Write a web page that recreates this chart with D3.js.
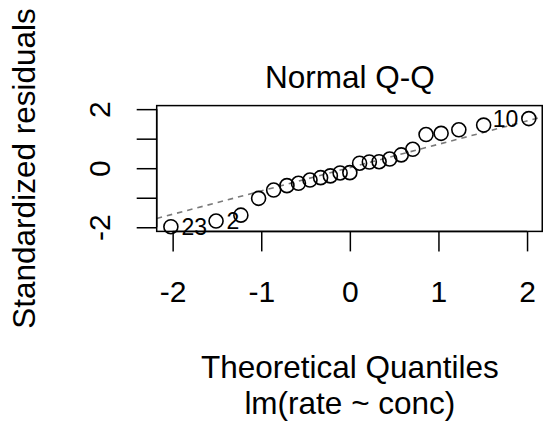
<!DOCTYPE html>
<html>
<head>
<meta charset="utf-8">
<script src="https://cdn.jsdelivr.net/npm/d3@7"></script>
<style>
html,body{margin:0;padding:0;background:#fff;}
svg{display:block;}
text{font-family:"Liberation Sans",Arial,sans-serif;fill:#000;}
</style>
</head>
<body>
<script>
// Theoretical quantiles (x) and standardized residuals (y), sorted
const theoretical = [-2.02,-1.51,-1.23,-1.03,-0.86,-0.71,-0.58,-0.45,-0.33,-0.22,-0.11,0.00,
                     0.11,0.22,0.33,0.45,0.58,0.71,0.86,1.03,1.23,1.51,2.02];
const residuals   = [-1.98,-1.79,-1.59,-1.02,-0.74,-0.59,-0.51,-0.40,-0.32,-0.26,-0.16,-0.15,
                     0.17,0.21,0.22,0.31,0.45,0.64,1.14,1.18,1.30,1.46,1.68];
const idLabels = [{i:0,label:"23",side:"right"},{i:1,label:"2",side:"right"},{i:22,label:"10",side:"left"}];
const qqLine = {intercept:0.02, slope:0.79};
const xTicks = [-2,-1,0,1,2];
const yTicks = [-2,-1,0,1,2];
const yTickLabels = [-2,0,2];
const xDomain = [-2.18,2.18];
const yDomain = [-2.14,2.12];

const W=543,H=427;
const L=156.7,R=543,T=105.6,B=231.4;
const FS=31.5, FT=30, FID=23;
const svg=d3.select("body").append("svg").attr("width",W).attr("height",H);
svg.append("rect").attr("width",W).attr("height",H).attr("fill","#fff");

const x=d3.scaleLinear().domain(xDomain).range([L,R]);
const y=d3.scaleLinear().domain(yDomain).range([B,T]);

svg.append("clipPath").attr("id","pc").append("rect")
  .attr("x",L).attr("y",T).attr("width",R-L).attr("height",B-T);

// qq line
svg.append("line").attr("clip-path","url(#pc)")
  .attr("x1",x(xDomain[0])).attr("y1",y(qqLine.intercept+qqLine.slope*xDomain[0]))
  .attr("x2",x(xDomain[1])).attr("y2",y(qqLine.intercept+qqLine.slope*xDomain[1]))
  .attr("stroke","#7a7a7a").attr("stroke-width",1.6).attr("stroke-dasharray","5.5,5");

// points
svg.selectAll("circle.pt").data(theoretical).enter().append("circle")
  .attr("cx",(d)=>x(d)).attr("cy",(d,i)=>y(residuals[i])).attr("r",7)
  .attr("fill","none").attr("stroke","#000").attr("stroke-width",1.6);

// id labels
svg.selectAll("text.id").data(idLabels).enter().append("text")
  .attr("x",d=>x(theoretical[d.i])+(d.side==="right"?10.5:-10.5))
  .attr("y",d=>y(residuals[d.i]))
  .attr("dy","0.36em")
  .attr("text-anchor",d=>d.side==="right"?"start":"end")
  .attr("font-size",FID).text(d=>d.label);

// box
svg.append("rect").attr("x",L).attr("y",T).attr("width",R-L-0.75).attr("height",B-T)
  .attr("fill","none").attr("stroke","#000").attr("stroke-width",1.5);

// x axis
const xAxis=d3.axisBottom(x).tickValues(xTicks).tickSize(20).tickFormat(d3.format("d"));
const gx=svg.append("g").attr("transform",`translate(0,${B})`).call(xAxis);
gx.select(".domain").attr("d",`M${x(-2)},0H${x(2)}`).attr("stroke-width",1.5);
gx.selectAll(".tick line").attr("stroke-width",1.5);
gx.selectAll(".tick text").attr("font-size",FT).attr("font-family","Liberation Sans, Arial, sans-serif")
  .attr("y",null).attr("dy",null).attr("transform","translate(0,71)")
  .text(d=>d<0?"-"+Math.abs(d):d);

// y axis
const yAxis=d3.axisLeft(y).tickValues(yTicks).tickSize(20).tickFormat(d=>yTickLabels.includes(d)?(d<0?"-"+Math.abs(d):String(d)):"");
const gy=svg.append("g").attr("transform",`translate(${L},0)`).call(yAxis);
gy.select(".domain").attr("d",`M0,${y(-2)}V${y(2)}`).attr("stroke-width",1.5);
gy.selectAll(".tick line").attr("stroke-width",1.5);
gy.selectAll(".tick text").attr("font-size",FT).attr("font-family","Liberation Sans, Arial, sans-serif")
  .attr("x",null).attr("dy",null).attr("text-anchor","middle")
  .attr("transform","translate(-47,0) rotate(-90)");

// titles
svg.append("text").attr("x",(L+R)/2).attr("y",88).attr("text-anchor","middle")
  .attr("font-size",FS).text("Normal Q-Q");
svg.append("text").attr("x",(L+R)/2).attr("y",378).attr("text-anchor","middle")
  .attr("font-size",FS).text("Theoretical Quantiles");
svg.append("text").attr("x",(L+R)/2).attr("y",414).attr("text-anchor","middle")
  .attr("font-size",FS).text("lm(rate ~ conc)");
svg.append("text").attr("transform",`translate(35,${(T+B)/2}) rotate(-90)`).attr("text-anchor","middle")
  .attr("font-size",FS).text("Standardized residuals");
</script>
</body>
</html>
